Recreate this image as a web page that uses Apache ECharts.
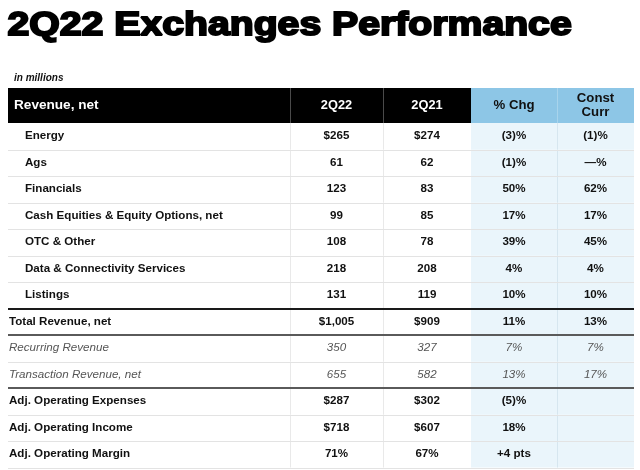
<!DOCTYPE html>
<html><head><meta charset="utf-8">
<script src="https://cdn.jsdelivr.net/npm/echarts@6/dist/echarts.min.js"></script>
<style>html,body{margin:0;padding:0;background:#fff}#c{width:640px;height:470px}</style>
</head><body><div id="c"></div>
<script>
// ---- data ----
const titleText = '2Q22 Exchanges Performance';
const unitNote = 'in millions';
const headers = ['Revenue, net', '2Q22', '2Q21', '% Chg', 'Const\nCurr'];
const rowLabels = ['Energy', 'Ags', 'Financials', 'Cash Equities & Equity Options, net', 'OTC & Other',
  'Data & Connectivity Services', 'Listings', 'Total Revenue, net', 'Recurring Revenue',
  'Transaction Revenue, net', 'Adj. Operating Expenses', 'Adj. Operating Income', 'Adj. Operating Margin'];
const val2Q22 = ['$265', '61', '123', '99', '108', '218', '131', '$1,005', '350', '655', '$287', '$718', '71%'];
const val2Q21 = ['$274', '62', '83', '85', '78', '208', '119', '$909', '327', '582', '$302', '$607', '67%'];
const pctChg = ['(3)%', '(1)%', '50%', '17%', '39%', '4%', '10%', '11%', '7%', '13%', '(5)%', '18%', '+4 pts'];
const constCurr = ['(1)%', '\u2014%', '62%', '17%', '45%', '4%', '10%', '13%', '7%', '17%', '', '', ''];
const rowGroup = ['seg', 'seg', 'seg', 'seg', 'seg', 'seg', 'seg', 'total', 'sub', 'sub', 'adj', 'adj', 'adj'];

// ---- layout / style ----
const X0 = 8, X1 = 634;
const colEdges = [8, 290, 383, 471, 557, 634];
const FONT = '"Liberation Sans", Arial, Helvetica, sans-serif';
const BLUE_HEAD = '#8DC6E6', BLUE_BODY = '#EAF5FB';

const chart = echarts.init(document.getElementById('c'), null, {renderer: 'canvas'});

function txt(text, x, y, opt) {
  return {type: 'text', z2: 20, style: Object.assign({
    text: text, x: x, y: y, align: 'center', verticalAlign: 'middle',
    fontFamily: FONT, fontSize: 11.6, fontWeight: 'bold', fill: '#111'
  }, opt || {})};
}

function renderHeader(params, api) {
  const yc = api.coord([X0, 0])[1];
  const h = api.size([0, 1])[1];
  const top = yc - h / 2;
  const ex = colEdges.map(v => api.coord([v, 0])[0]);
  const ch = [];
  ch.push({type: 'rect', shape: {x: ex[0], y: top, width: ex[3] - ex[0], height: h}, style: {fill: '#000'}});
  ch.push({type: 'rect', shape: {x: ex[3], y: top, width: ex[5] - ex[3], height: h}, style: {fill: BLUE_HEAD}});
  [1, 2].forEach(k => ch.push({type: 'line', z2: 5, shape: {x1: ex[k] + 0.5, y1: top, x2: ex[k] + 0.5, y2: top + h}, style: {stroke: '#4a4a4a', lineWidth: 1}}));
  ch.push({type: 'line', z2: 5, shape: {x1: ex[4] + 0.5, y1: top, x2: ex[4] + 0.5, y2: top + h}, style: {stroke: '#A8D4EC', lineWidth: 1}});
  ch.push(txt(headers[0], ex[0] + 6, yc, {align: 'left', fill: '#fff', fontSize: 13.6}));
  ch.push(txt(headers[1], (ex[1] + ex[2]) / 2, yc, {fill: '#fff', fontSize: 12.8}));
  ch.push(txt(headers[2], (ex[2] + ex[3]) / 2, yc, {fill: '#fff', fontSize: 12.8}));
  ch.push(txt(headers[3], (ex[3] + ex[4]) / 2, yc, {fontSize: 13.2}));
  ch.push(txt(headers[4], (ex[4] + ex[5]) / 2, yc, {fontSize: 13.2, lineHeight: 14}));
  return {type: 'group', children: ch};
}

function renderBody(params, api) {
  const i = params.dataIndex;
  const yc = api.coord([X0, i])[1];
  const h = api.size([0, 1])[1];
  const top = yc - h / 2, bot = yc + h / 2;
  const ex = colEdges.map(v => api.coord([v, i])[0]);
  const kind = rowGroup[i];
  const ch = [];
  ch.push({type: 'rect', z2: 0, shape: {x: ex[3], y: top, width: ex[5] - ex[3], height: h}, style: {fill: BLUE_BODY}});
  [1, 2].forEach(k => ch.push({type: 'line', z2: 4, shape: {x1: ex[k] + 0.5, y1: top, x2: ex[k] + 0.5, y2: bot}, style: {stroke: '#E9E9E9', lineWidth: 1}}));
  ch.push({type: 'line', z2: 4, shape: {x1: ex[4] + 0.5, y1: top, x2: ex[4] + 0.5, y2: bot}, style: {stroke: '#D6E6EF', lineWidth: 1}});
  const by = Math.round(bot) + 0.5;
  ch.push({type: 'line', z2: 5, shape: {x1: ex[0], y1: by, x2: ex[5], y2: by}, style: {stroke: '#E3E3E3', lineWidth: 1}});
  const prev = i > 0 ? rowGroup[i - 1] : kind;
  if (i > 0 && prev !== kind) {
    const ty = Math.round(top);
    const col = kind === 'total' ? '#1a1a1a' : '#5a5a5a';
    ch.push({type: 'line', z2: 10, shape: {x1: ex[0], y1: ty, x2: ex[5], y2: ty}, style: {stroke: col, lineWidth: 2}});
  }
  const isSub = kind === 'sub';
  const o = isSub ? {fontWeight: 'normal', fontStyle: 'italic', fill: '#555'} : {};
  const lx = kind === 'seg' ? ex[0] + 17 : ex[0] + 1;
  ch.push(txt(rowLabels[i], lx, yc, Object.assign({align: 'left'}, o)));
  ch.push(txt(val2Q22[i], (ex[1] + ex[2]) / 2, yc, o));
  ch.push(txt(val2Q21[i], (ex[2] + ex[3]) / 2, yc, o));
  ch.push(txt(pctChg[i], (ex[3] + ex[4]) / 2, yc, o));
  if (constCurr[i]) ch.push(txt(constCurr[i], (ex[4] + ex[5]) / 2, yc, o));
  return {type: 'group', children: ch};
}

chart.setOption({
  animation: false,
  graphic: [
    {type: 'text', x: 9, y: 26, scaleX: 1.17, scaleY: 1, originX: 9, originY: 26,
      style: {text: titleText, fontFamily: FONT, fontSize: 33.5, fontWeight: 'bold', fill: '#000',
        stroke: '#000', lineWidth: 2, verticalAlign: 'middle', align: 'left'}}
  ],
  title: [
    {text: unitNote, left: 9, top: 68, textStyle: {fontFamily: FONT, fontSize: 10, fontWeight: 'bold', fontStyle: 'italic', color: '#111'}}
  ],
  grid: [
    {left: X0, right: 640 - X1, top: 88, height: 35},
    {left: X0, right: 640 - X1, top: 123, height: 344.5}
  ],
  xAxis: [
    {gridIndex: 0, type: 'value', min: X0, max: X1, show: false},
    {gridIndex: 1, type: 'value', min: X0, max: X1, show: false}
  ],
  yAxis: [
    {gridIndex: 0, type: 'category', data: [headers[0]], show: false},
    {gridIndex: 1, type: 'category', data: rowLabels, inverse: true, show: false}
  ],
  series: [
    {type: 'custom', xAxisIndex: 0, yAxisIndex: 0, renderItem: renderHeader, data: [[X0, 0]], encode: {x: 0, y: 1}, silent: true},
    {type: 'custom', xAxisIndex: 1, yAxisIndex: 1, renderItem: renderBody, data: rowLabels.map((_, i) => [X0, i]), encode: {x: 0, y: 1}, silent: true}
  ]
});
</script></body></html>
